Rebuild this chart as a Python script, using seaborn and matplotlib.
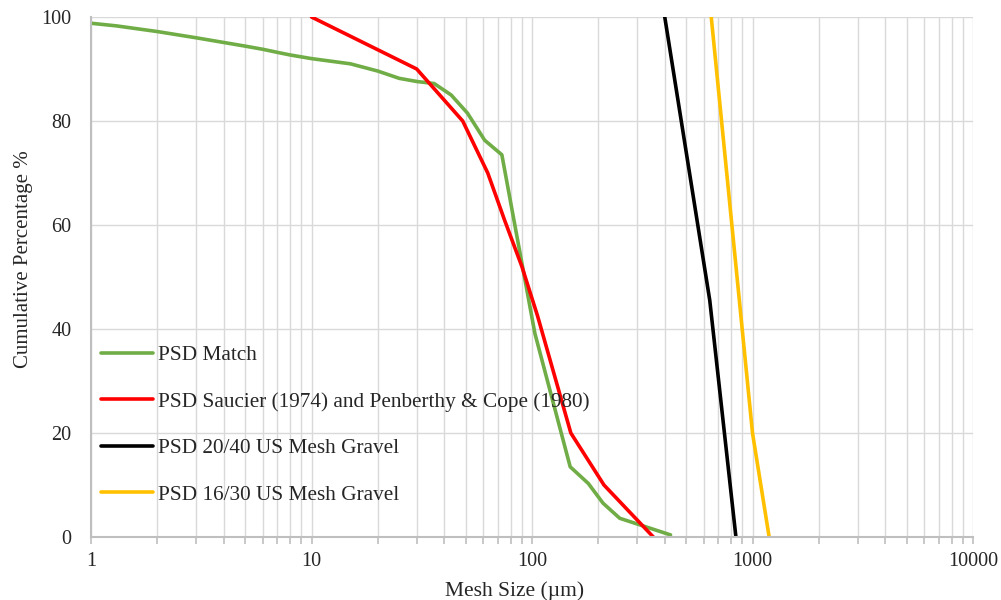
import matplotlib
matplotlib.use("Agg")
import matplotlib.pyplot as plt
import matplotlib.ticker as mticker
import seaborn as sns
import pandas as pd

# Data
match_x = [1, 1.3, 2, 3, 4, 5, 6, 7, 8, 10, 15, 20, 25, 30, 36, 43, 51, 61, 73, 103, 149, 180, 210, 250, 425]
match_y = [98.8, 98.3, 97.2, 96.0, 95.1, 94.4, 93.8, 93.2, 92.7, 92.0, 91.0, 89.6, 88.2, 87.6, 87.2, 85.0, 81.5, 76.3, 73.5, 39.2, 13.5, 10.3, 6.5, 3.6, 0.4]

saucier_x = [10, 30, 48.5, 63, 75, 90, 106, 150, 212, 355]
saucier_y = [100, 90, 80, 70, 61, 52, 42.5, 20, 10, 0]

gravel2040_x = [400, 640, 841]
gravel2040_y = [100, 45.5, 0]

gravel1630_x = [650, 1000, 1190]
gravel1630_y = [100, 20, 0]

labels = ["PSD Match", "PSD Saucier (1974) and Penberthy & Cope (1980)",
          "PSD 20/40 US Mesh Gravel", "PSD 16/30 US Mesh Gravel"]
colors = ["#70AD47", "#FF0000", "#000000", "#FFC000"]

sns.set_style("white")
plt.rcParams['font.family'] = ['Liberation Serif', 'DejaVu Serif']

fig = plt.figure(figsize=(10.01, 6.0), dpi=100)
ax = fig.add_axes([91/1001, 1 - 537/600, (973-91)/1001, (537-17)/600])

series = [(match_x, match_y), (saucier_x, saucier_y),
          (gravel2040_x, gravel2040_y), (gravel1630_x, gravel1630_y)]
for (xs, ys), lab, col in zip(series, labels, colors):
    df = pd.DataFrame({"x": xs, "y": ys})
    sns.lineplot(data=df, x="x", y="y", ax=ax, color=col, linewidth=2.6,
                 label=lab, sort=False, estimator=None)

ax.set_xscale("log")
ax.set_xlim(1, 10000)
ax.set_ylim(0, 100)
ax.set_yticks([0, 20, 40, 60, 80, 100])
ax.xaxis.set_major_locator(mticker.LogLocator(base=10, numticks=10))
ax.xaxis.set_minor_locator(mticker.LogLocator(base=10, subs=range(2, 10), numticks=100))
ax.xaxis.set_major_formatter(mticker.FuncFormatter(lambda v, p: f"{int(round(v))}"))
ax.xaxis.set_minor_formatter(mticker.NullFormatter())

gc = "#D9D9D9"
ax.grid(True, which="both", axis="x", color=gc, linewidth=1.0)
ax.grid(True, which="major", axis="y", color=gc, linewidth=1.0)
ax.set_axisbelow(True)
for s in ["top", "right"]:
    ax.spines[s].set_visible(False)
for s in ["left", "bottom"]:
    ax.spines[s].set_color("#BFBFBF")
    ax.spines[s].set_linewidth(1.5)
ax.tick_params(axis="x", which="both", direction="out", length=5, color="#BFBFBF",
               width=1.2, labelsize=14.5, pad=6, bottom=True)
ax.tick_params(axis="y", which="both", length=0, labelsize=14.5, pad=14)

ax.set_xlabel("Mesh Size (µm)", fontsize=15.5)
ax.xaxis.set_label_coords(0.48, -0.085)
ax.set_ylabel("Cumulative Percentage %", fontsize=15)
ax.yaxis.set_label_coords(-0.066, 0.535)

ax.legend(loc="upper left", bbox_to_anchor=(-0.006, 0.397), frameon=False,
          fontsize=15.3, handlelength=2.45, handletextpad=0.25,
          labelspacing=1.25, borderaxespad=0.3)

fig.savefig("out.png", dpi=100)
